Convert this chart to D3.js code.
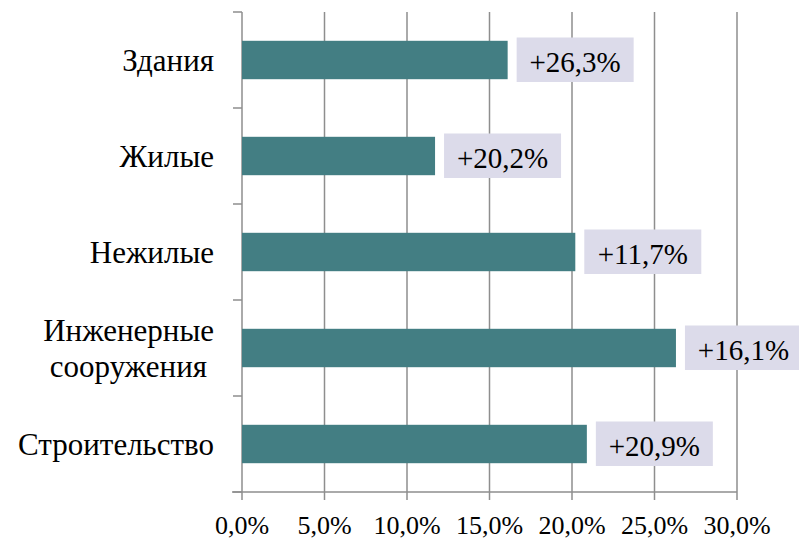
<!DOCTYPE html>
<html><head><meta charset="utf-8">
<script src="https://cdn.jsdelivr.net/npm/d3@7"></script>
<style>
body{margin:0;background:#fff}
svg text, text{font-family:"Liberation Serif","Times New Roman",Tinos,serif !important;}
</style>
</head><body>
<svg id="chart" width="799" height="540"></svg>
<script>
const categories = [["Здания"], ["Жилые"], ["Нежилые"], ["Инженерные", "сооружения"], ["Строительство"]];
const values = [16.1, 11.7, 20.2, 26.3, 20.9];
const valueLabels = ["+26,3%", "+20,2%", "+11,7%", "+16,1%", "+20,9%"];
const xTicks = [0, 5, 10, 15, 20, 25, 30];
const xTickLabels = ["0,0%", "5,0%", "10,0%", "15,0%", "20,0%", "25,0%", "30,0%"];

const svg = d3.select("#chart");
const mLeft = 242, mRight = 737, mTop = 12, mBottom = 492;
const FONT = '"Liberation Serif", "Times New Roman", serif';
const gridColor = "#8e8e8e";

const x = d3.scaleLinear().domain([0, 30]).range([mLeft, mRight]);
const y = d3.scaleBand().domain(d3.range(categories.length)).range([mTop, mBottom])
  .paddingInner(0.6).paddingOuter(0.3);
const step = y.step();

// gridlines
svg.append("g").selectAll("line").data(xTicks.slice(1)).join("line")
  .attr("x1", d => x(d)).attr("x2", d => x(d))
  .attr("y1", mTop).attr("y2", mBottom)
  .attr("stroke", gridColor).attr("stroke-width", 1.5);

// x axis ticks and labels
svg.append("g").selectAll("line").data(xTicks).join("line")
  .attr("x1", d => x(d)).attr("x2", d => x(d))
  .attr("y1", mBottom).attr("y2", mBottom + 8)
  .attr("stroke", gridColor).attr("stroke-width", 1.5);
svg.append("g").selectAll("text").data(xTicks).join("text")
  .attr("x", d => x(d)).attr("y", mBottom + 42)
  .attr("text-anchor", "middle")
  .attr("font-family", FONT).style("font-family", FONT)
  .attr("font-size", 26).attr("fill", "#000")
  .text((d, i) => xTickLabels[i]);
svg.append("line").attr("x1", mLeft - 10).attr("x2", mRight).attr("y1", mBottom).attr("y2", mBottom)
  .attr("stroke", gridColor).attr("stroke-width", 1.5);

// y axis line + boundary ticks
svg.append("line").attr("x1", mLeft).attr("x2", mLeft).attr("y1", mTop).attr("y2", mBottom)
  .attr("stroke", gridColor).attr("stroke-width", 1.5);
svg.append("g").selectAll("line").data(d3.range(categories.length + 1)).join("line")
  .attr("x1", mLeft - 9).attr("x2", mLeft)
  .attr("y1", i => mTop + i * step).attr("y2", i => mTop + i * step)
  .attr("stroke", gridColor).attr("stroke-width", 1.5);

// category labels
categories.forEach((lines, i) => {
  const cy = y(i) + y.bandwidth() / 2;
  const n = lines.length;
  lines.forEach((t, j) => {
    svg.append("text")
      .attr("x", j === 0 ? 214 : 207)
      .attr("y", cy + 11 + (j - (n - 1) / 2) * 36.5)
      .attr("text-anchor", "end")
      .attr("font-family", FONT).style("font-family", FONT)
      .attr("font-size", 31).attr("fill", "#000")
      .text(t);
  });
});

// bars
svg.append("g").selectAll("rect").data(values).join("rect")
  .attr("x", x(0)).attr("y", (d, i) => y(i))
  .attr("width", d => x(d) - x(0)).attr("height", y.bandwidth())
  .attr("fill", "#437e83");

// value label boxes
svg.append("g").selectAll("rect").data(values).join("rect")
  .attr("x", d => x(d) + 9)
  .attr("y", (d, i) => y(i) + y.bandwidth() / 2 - 22.5)
  .attr("width", 117).attr("height", 44.5)
  .attr("fill", "#dcdbea");
// value label texts
valueLabels.forEach((lbl, i) => {
  svg.append("text")
    .attr("x", x(values[i]) + 9 + 58.5)
    .attr("y", y(i) + y.bandwidth() / 2 + 11.5)
    .attr("text-anchor", "middle")
    .attr("font-family", FONT).style("font-family", FONT)
    .attr("font-size", 29).attr("fill", "#000")
    .text(lbl);
});
</script>
</body></html>
